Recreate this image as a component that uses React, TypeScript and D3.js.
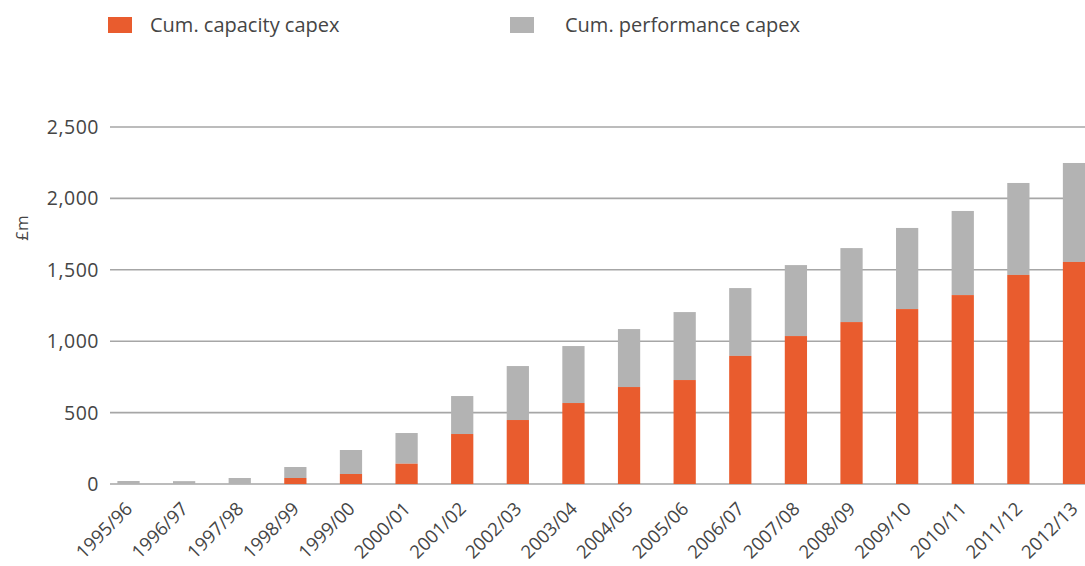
import React from "react";
import * as d3 from "d3";

const categories = [
  "1995/96", "1996/97", "1997/98", "1998/99", "1999/00", "2000/01",
  "2001/02", "2002/03", "2003/04", "2004/05", "2005/06", "2006/07",
  "2007/08", "2008/09", "2009/10", "2010/11", "2011/12", "2012/13",
];

// Cumulative capacity capex, £m
const capacity = [0, 0, 0, 42, 70, 142, 350, 448, 567, 679, 728, 897, 1036, 1134, 1225, 1323, 1464, 1555];

// Cumulative performance capex, £m (stacked on top of capacity)
const performance = [21, 20, 42, 77, 168, 215, 266, 378, 399, 406, 476, 475, 497, 518, 568, 589, 644, 693];

const yTicks = [0, 500, 1000, 1500, 2000, 2500];

const ORANGE = "#E95C2E";
const GREY = "#B3B3B3";
const GRID = "#A6A6A6";
const TEXT = "#454545";
const FONT = "'Open Sans', 'Liberation Sans', Arial, sans-serif";

export default function App() {
  const width = 1085;
  const height = 566;

  const x = d3.scaleBand<string>().domain(categories).range([100.7, 1101.8]).paddingInner(0.6).paddingOuter(0.3);
  const y = d3.scaleLinear().domain([0, 2500]).range([484, 127]);
  const fmt = d3.format(",");

  const gridX0 = 110;
  const gridX1 = 1085;

  return (
    <svg width={width} height={height} style={{ position: "absolute", left: 0, top: 0, background: "#fff" }}>
      {/* legend */}
      <rect x={108} y={17} width={24} height={16} fill={ORANGE} />
      <text x={150} y={32} fontFamily={FONT} fontSize={20} fill={TEXT}>Cum. capacity capex</text>
      <rect x={510} y={17} width={24} height={16} fill={GREY} />
      <text x={565} y={32} fontFamily={FONT} fontSize={20} fill={TEXT}>Cum. performance capex</text>

      {/* gridlines and y labels */}
      {yTicks.map((t) => (
        <g key={t}>
          <line x1={gridX0} x2={gridX1} y1={y(t)} y2={y(t)} stroke={GRID} strokeWidth={1.6} />
          <text
            x={99}
            y={y(t)}
            dy="0.36em"
            textAnchor="end"
            fontFamily={FONT}
            fontSize={19.5}
            letterSpacing={0.5}
            fill={TEXT}
          >
            {fmt(t)}
          </text>
        </g>
      ))}
      <text
        transform={`translate(28, 228) rotate(-90)`}
        textAnchor="middle"
        fontFamily={FONT}
        fontSize={17}
        fill={TEXT}
      >
        £m
      </text>

      {/* stacked bars */}
      {categories.map((c, i) => {
        const bx = x(c)!;
        const bw = x.bandwidth();
        const cap = capacity[i];
        const tot = cap + performance[i];
        return (
          <g key={c}>
            <rect x={bx} y={y(tot)} width={bw} height={y(cap) - y(tot)} fill={GREY} />
            {cap > 0 && <rect x={bx} y={y(cap)} width={bw} height={y(0) - y(cap)} fill={ORANGE} />}
          </g>
        );
      })}

      {/* x labels */}
      {categories.map((c) => {
        const cx = x(c)! + x.bandwidth() / 2;
        return (
          <text
            key={c}
            transform={`translate(${cx + 5}, 510) rotate(-45)`}
            textAnchor="end"
            fontFamily={FONT}
            fontSize={18.5}
            fill={TEXT}
          >
            {c}
          </text>
        );
      })}
    </svg>
  );
}
